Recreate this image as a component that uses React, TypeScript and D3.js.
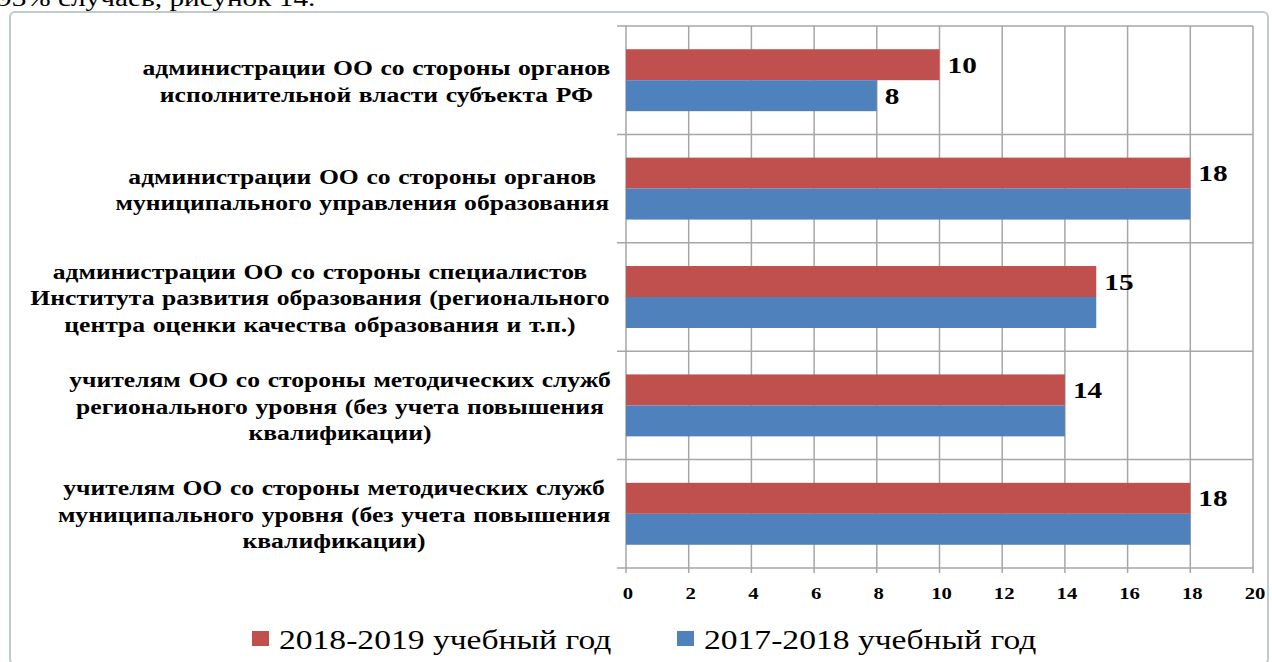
import { useMemo } from 'react';
import * as d3 from 'd3';

const categories = [
  ['администрации ОО со стороны органов', 'исполнительной власти субъекта РФ'],
  ['администрации ОО со стороны органов', 'муниципального управления образования'],
  ['администрации ОО со стороны специалистов', 'Института развития образования (регионального', 'центра оценки качества образования и т.п.)'],
  ['учителям ОО со стороны методических служб', 'регионального уровня (без учета повышения', 'квалификации)'],
  ['учителям ОО со стороны методических служб', 'муниципального уровня (без учета повышения', 'квалификации)'],
];
const series = ['2018-2019 учебный год', '2017-2018 учебный год'];
const values2018 = [10, 18, 15, 14, 18];
const values2017 = [8, 18, 15, 14, 18];
const xTicks = [0, 2, 4, 6, 8, 10, 12, 14, 16, 18, 20];
const colors = ['#C0504D', '#4F81BD'];

const SX = 1.22; // the picture is stretched sideways
const serif = 'Liberation Serif';
const grid = '#a6a6a6';
const labelFont = 21;

export default function App() {
  const width = 1272, height = 662;
  const left = 626, right = 1253, top = 26, bottom = 568;

  const x = d3.scaleLinear().domain([0, 20]).range([left, right]);
  const y = d3.scaleBand<number>().domain(d3.range(categories.length)).range([top, bottom]).padding(0);
  const ySub = d3.scaleBand<number>().domain([0, 1]).range([0, y.bandwidth()]).paddingInner(0).paddingOuter(0.75);
  const data = [values2018, values2017];
  const bounds = d3.range(categories.length + 1).map(i => top + i * y.step());

  // label blocks are flush against the axis, lines centred within the block
  const centers = useMemo(() => {
    const ctx = document.createElement('canvas').getContext('2d');
    return categories.map(lines => {
      let w = 400;
      if (ctx) {
        ctx.font = `bold ${labelFont}px "${serif}"`;
        w = d3.max(lines, l => ctx.measureText(l).width) as number * SX;
      }
      return 608 - w / 2;
    });
  }, []);

  return (
    <svg width={width} height={height} style={{ position: 'absolute', left: 0, top: 0, background: '#fff' }}>
      {/* text above the frame, cut off */}
      <text transform={`translate(-3,6) scale(${SX},1)`} style={{ fontFamily: serif }} fontSize={24} fill="#000">
        93% случаев, рисунок 14.
      </text>
      <rect x={10} y={12} width={1258} height={652} rx={5} fill="#fff" stroke="#bfcaca" strokeWidth={2} />

      {/* vertical grid */}
      {xTicks.map(t => (
        <line key={'g' + t} x1={x(t)} x2={x(t)} y1={top} y2={bottom + 5} stroke={grid} strokeWidth={1.5} />
      ))}
      {/* horizontal separators */}
      {bounds.map((b, i) => (
        <line key={'h' + i} x1={left - 9} x2={right} y1={b} y2={b} stroke={grid} strokeWidth={1.5} />
      ))}

      {/* bars */}
      {categories.map((c, i) => data.map((vals, s) => (
        <rect key={`b${i}-${s}`} x={x(0)} y={(y(i) as number) + (ySub(s) as number)}
          width={x(vals[i]) - x(0)} height={ySub.bandwidth()} fill={colors[s]} />
      )))}

      {/* value labels */}
      {categories.map((c, i) => data.map((vals, s) => {
        if (s === 1 && vals[i] === data[0][i]) return null;
        const cy = (y(i) as number) + (ySub(s) as number) + ySub.bandwidth() / 2;
        return (
          <text key={`v${i}-${s}`} transform={`translate(${x(vals[i]) + 8},${cy}) scale(${SX},1)`}
            dominantBaseline="central" style={{ fontFamily: serif }} fontWeight="bold" fontSize={24} fill="#000">
            {vals[i]}
          </text>
        );
      }))}

      {/* category labels */}
      {categories.map((lines, i) => {
        const cy = (y(i) as number) + y.bandwidth() / 2 + 1;
        const lh = 26.5;
        return lines.map((ln, k) => (
          <text key={`c${i}-${k}`} transform={`translate(${centers[i]},${cy + (k - (lines.length - 1) / 2) * lh}) scale(${SX},1)`}
            textAnchor="middle" dominantBaseline="central" style={{ fontFamily: serif, wordSpacing: '1px' }} fontWeight="bold" fontSize={labelFont} fill="#000">
            {ln}
          </text>
        ));
      })}

      {/* x tick labels */}
      {xTicks.map(t => (
        <text key={'tl' + t} transform={`translate(${x(t) + 2},${593}) scale(${SX},1)`}
          textAnchor="middle" dominantBaseline="central" style={{ fontFamily: serif }} fontWeight="bold" fontSize={17} fill="#000">
          {t}
        </text>
      ))}

      {/* legend */}
      {series.map((s, i) => {
        const lx = [252, 677][i];
        return (
          <g key={'l' + i}>
            <rect x={lx} y={631} width={17} height={15} fill={colors[i]} />
            <text transform={`translate(${lx + 27},649) scale(1.2,1)`} style={{ fontFamily: serif }} fontSize={28} fill="#000">{s}</text>
          </g>
        );
      })}
    </svg>
  );
}
